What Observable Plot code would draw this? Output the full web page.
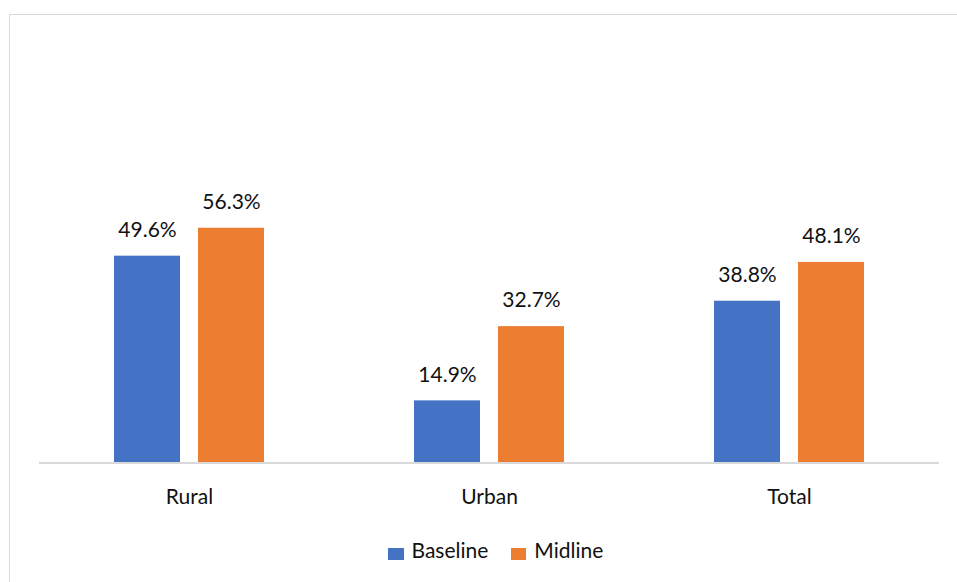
<!DOCTYPE html>
<html>
<head>
<meta charset="utf-8">
<script src="https://cdn.jsdelivr.net/npm/d3@7"></script>
<script src="https://cdn.jsdelivr.net/npm/@observablehq/plot@0.6"></script>
<style>
  html, body { margin: 0; padding: 0; background: #fff; }
  body { width: 957px; height: 582px; position: relative; overflow: hidden; font-family: Lato, "Open Sans", sans-serif; }
  #frame { position: absolute; left: 9px; top: 14px; width: 1000px; height: 600px;
           border-left: 1.5px solid #d9d9d9; border-top: 1.5px solid #d9d9d9; box-sizing: border-box; }
  #chart { position: absolute; left: 0; top: 0; }
  #legend { position: absolute; left: 388px; top: 538px; display: flex; align-items: flex-start;
            font-size: 21px; line-height: 24px; color: #111; }
  .sw { width: 15.5px; height: 12.5px; margin-top: 9.5px; margin-right: 8px; }
  .item { display: flex; align-items: flex-start; margin-right: 22.5px; }
</style>
</head>
<body>
<div id="frame"></div>
<div id="chart"></div>
<div id="legend"></div>
<script>
const categories = ["Rural", "Urban", "Total"];
const seriesNames = ["Baseline", "Midline"];
const baselineValues = [49.6, 14.9, 38.8];
const midlineValues = [56.3, 32.7, 48.1];
const seriesColors = ["#4472C4", "#ED7D31"];

const data = [];
categories.forEach((c, i) => {
  data.push({category: c, series: seriesNames[0], value: baselineValues[i]});
  data.push({category: c, series: seriesNames[1], value: midlineValues[i]});
});

const chart = Plot.plot({
  width: 957,
  height: 520,
  marginLeft: 38,
  marginRight: 17,
  marginTop: 170.6,
  marginBottom: 57.5,
  style: {fontFamily: "Lato, 'Open Sans', sans-serif", fontSize: "21px", color: "#111", background: "transparent"},
  fx: {domain: categories, padding: 0, label: null},
  x: {domain: seriesNames, paddingInner: 0.2118, paddingOuter: 0.8747, axis: null},
  y: {domain: [0, 70], axis: null},
  color: {domain: seriesNames, range: seriesColors},
  marks: [
    Plot.barY(data, {fx: "category", x: "series", y: "value", fill: "series"}),
    Plot.ruleY([0], {stroke: "#d9d9d9", strokeWidth: 2}),
    Plot.text(data, {fx: "category", x: "series", y: "value",
      text: d => d.value.toFixed(1) + "%", lineAnchor: "bottom", dy: -19.3,
      fontSize: 21, fill: "#111"}),
    Plot.axisFx({anchor: "bottom", tickSize: 0, tickPadding: 26, fontSize: 21, label: null, fill: "#111"})
  ]
});
document.getElementById("chart").appendChild(chart);

const legend = document.getElementById("legend");
seriesNames.forEach((s, i) => {
  const item = document.createElement("div");
  item.className = "item";
  const sw = document.createElement("div");
  sw.className = "sw";
  sw.style.background = seriesColors[i];
  const label = document.createElement("span");
  label.textContent = s;
  item.appendChild(sw);
  item.appendChild(label);
  legend.appendChild(item);
});
</script>
</body>
</html>
